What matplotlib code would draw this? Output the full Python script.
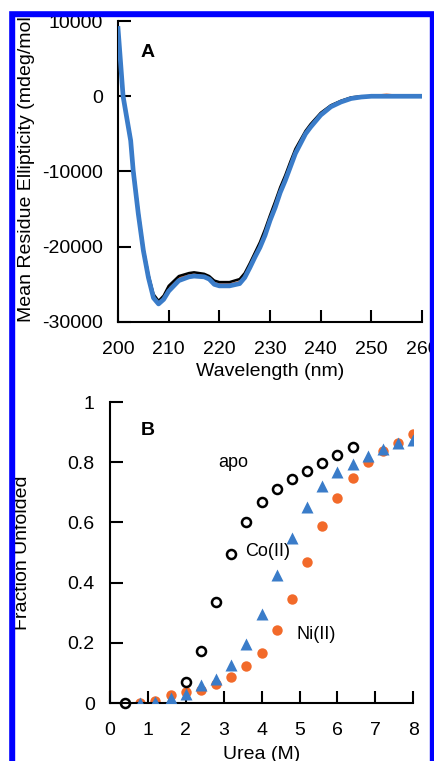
import numpy as np
import matplotlib.pyplot as plt
from matplotlib.patches import Rectangle

plt.rcParams['font.family'] = ['Liberation Sans', 'DejaVu Sans']
plt.rcParams['axes.unicode_minus'] = False

# panel A: CD spectra (nm, mdeg/mol)
wl = [200, 201, 202.5, 203, 204, 205, 206, 207, 208, 209, 210, 212, 214, 215, 217,
      218, 219, 220, 222, 224, 225, 226, 227, 228, 229, 230, 231, 232, 233, 234,
      235, 236, 237, 238, 240, 242, 244, 246, 248, 250, 253, 256, 260]
cd_blue = [9000, 0, -5900, -9900, -15600, -20500, -24100, -26800, -27600, -27000,
           -25900, -24500, -24000, -23900, -24000, -24300, -25000, -25200, -25200,
           -24900, -24100, -22800, -21400, -20100, -18500, -16500, -14800, -12800,
           -11200, -9400, -7600, -6300, -5000, -4100, -2500, -1400, -760, -300,
           -100, 0, 0, 0, 0]
cd_black = [8800, 0, -5600, -9500, -15200, -20200, -23700, -26300, -27200, -26500,
            -25200, -23900, -23500, -23400, -23600, -23900, -24500, -24700, -24700,
            -24300, -23500, -22200, -20800, -19400, -17700, -15800, -14000, -12100,
            -10500, -8700, -7000, -5800, -4600, -3700, -2200, -1200, -600, -150,
            0, 0, 0, 0, 0]
cd_orange = [8900, 0, -5800, -9800, -15400, -20400, -24000, -26600, -27400, -26800,
             -25600, -24200, -23800, -23700, -23800, -24100, -24800, -25000, -25000,
             -24700, -23900, -22600, -21200, -19900, -18300, -16300, -14600, -12700,
             -11100, -9300, -7500, -6200, -4900, -4000, -2400, -1300, -700, -250,
             -80, 0, 200, 0, 0]

# panel B: urea denaturation
urea_apo = [0.4, 2.0, 2.4, 2.8, 3.2, 3.6, 4.0, 4.4, 4.8, 5.2, 5.6, 6.0, 6.4]
frac_apo = [0.0, 0.07, 0.173, 0.336, 0.496, 0.601, 0.668, 0.712, 0.745, 0.771,
            0.797, 0.823, 0.85]
urea_co = [0.8, 1.2, 1.6, 2.0, 2.4, 2.8, 3.2, 3.6, 4.0, 4.4, 4.8, 5.2, 5.6, 6.0,
           6.4, 6.8, 7.2, 7.6, 8.0]
frac_co = [0.0, 0.003, 0.015, 0.03, 0.06, 0.08, 0.125, 0.197, 0.295, 0.424, 0.549,
           0.651, 0.72, 0.767, 0.793, 0.82, 0.843, 0.864, 0.875]
urea_ni = [0.8, 1.2, 1.6, 2.0, 2.4, 2.8, 3.2, 3.6, 4.0, 4.4, 4.8, 5.2, 5.6, 6.0,
           6.4, 6.8, 7.2, 7.6, 8.0]
frac_ni = [0.0, 0.007, 0.025, 0.037, 0.042, 0.062, 0.086, 0.122, 0.166, 0.241,
           0.347, 0.468, 0.588, 0.682, 0.748, 0.80, 0.837, 0.864, 0.895]

blue = '#3a7cc9'
orange = '#f26a2a'
fs = 14

fig = plt.figure(figsize=(4.35, 7.61), dpi=100)
axA = fig.add_axes([0.2713, 0.5769, 0.699, 0.3955])
axB = fig.add_axes([0.2529, 0.0762, 0.697, 0.3955])

def style(ax):
    for s in ('top', 'right'):
        ax.spines[s].set_visible(False)
    for s in ('left', 'bottom'):
        ax.spines[s].set_linewidth(1.5)
    ax.tick_params(direction='in', length=9, width=1.5, labelsize=fs)
    ax.tick_params(axis='x', pad=14)
    ax.tick_params(axis='y', pad=11)

axA.plot(wl, cd_orange, color=orange, lw=1.8, zorder=2)
axA.plot(wl, cd_black, color='black', lw=1.8, zorder=3)
axA.plot(wl, cd_blue, color=blue, lw=3.4, zorder=4)
axA.set_xlim(200, 260)
axA.set_ylim(-30000, 10000)
axA.set_xticks(np.arange(200, 261, 10))
axA.set_yticks(np.arange(-30000, 10001, 10000))
style(axA)
axA.set_xlabel('Wavelength (nm)', fontsize=fs)
axA.xaxis.set_label_coords(0.5, -0.136)
axA.set_ylabel('Mean Residue Ellipticity (mdeg/mol)', fontsize=fs)
axA.yaxis.set_label_coords(-0.273, 0.52)
axA.text(205.9, 5870, 'A', fontsize=fs, fontweight='bold', ha='center', va='center')

axB.plot(urea_ni, frac_ni, 'o', color=orange, ms=7.5, mec='none', zorder=2)
axB.plot(urea_co, frac_co, '^', color=blue, ms=8.5, mec='none', zorder=3)
axB.plot(urea_apo, frac_apo, 'o', mfc='none', mec='black', ms=6.5, mew=1.8, zorder=4,
         clip_on=False)
axB.set_xlim(0, 8)
axB.set_ylim(0, 1)
axB.set_xticks(np.arange(0, 9, 1))
axB.set_yticks([0, 0.2, 0.4, 0.6, 0.8, 1])
axB.set_yticklabels(['0', '0.2', '0.4', '0.6', '0.8', '1'])
style(axB)
axB.set_xlabel('Urea (M)', fontsize=fs)
axB.xaxis.set_label_coords(0.5, -0.143)
axB.set_ylabel('Fraction Unfolded', fontsize=fs)
axB.yaxis.set_label_coords(-0.26, 0.5)
axB.text(1.0, 0.907, 'B', fontsize=fs, fontweight='bold', ha='center', va='center')
axB.text(3.25, 0.80, 'apo', fontsize=13, ha='center', va='center')
axB.text(4.17, 0.503, 'Co(II)', fontsize=13, ha='center', va='center')
axB.text(5.45, 0.226, 'Ni(II)', fontsize=13, ha='center', va='center')

# blue frame around the figure (open at the bottom, image is cropped there)
W, H = 435, 761
top = 1 - 10 / H
fig.patches.append(Rectangle((8 / W, -0.05), 6 / W, top + 0.05, transform=fig.transFigure,
                             color='#0000ff', zorder=10))
fig.patches.append(Rectangle((8 / W, 1 - 16 / H), (430 - 8) / W, 6 / H,
                             transform=fig.transFigure, color='#0000ff', zorder=10))
fig.patches.append(Rectangle((430 / W, -0.05), 5 / W, top + 0.05,
                             transform=fig.transFigure, color='#0000ff', zorder=10))
fig.patches.append(Rectangle((0, top), 1, 10 / H, transform=fig.transFigure,
                             color='white', zorder=11))
fig.patches.append(Rectangle((0, 0), 8 / W, 1, transform=fig.transFigure,
                             color='white', zorder=11))

fig.savefig('out.png', dpi=100)
